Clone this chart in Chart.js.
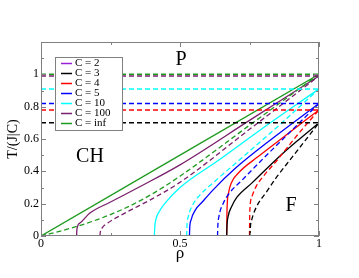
<!DOCTYPE html>
<html>
<head>
<meta charset="utf-8">
<script src="https://cdn.jsdelivr.net/npm/chart.js@4"></script>
<style>
html, body { margin: 0; padding: 0; background: #fff; }
</style>
</head>
<body>
<canvas id="phaseChart" width="359" height="278"></canvas>
<script>
// legend entries, one per C
const legendLabels = ['C = 2', 'C = 3', 'C = 4', 'C = 5', 'C = 10', 'C = 100', 'C = inf'];
const seriesColors = ['#9a20d8', '#000000', '#ff0000', '#0000ff', '#00ffff', '#7a1f6b', '#1e9a1e'];

// horizontal dashed levels T/(J|C|) for C = 3, 4, 5, 10, 100, inf
const levelT = [0.70, 0.78, 0.82, 0.91, 0.99, 1.00];

// C = 2 only shows up on the rho = 1 edge
const c2Line = [[1, 0], [1, 0.2]];

// solid curves [rho, T]
const c3Solid = [[0.668, 0], [0.669, 0.06], [0.673, 0.12], [0.685, 0.18], [0.705, 0.24], [0.76, 0.33], [0.85, 0.48], [0.93, 0.6], [1, 0.7]];
const c4Solid = [[0.668, 0], [0.6685, 0.1], [0.67, 0.2], [0.675, 0.27], [0.685, 0.33], [0.71, 0.39], [0.78, 0.49], [0.86, 0.596], [1, 0.78]];
const c5Solid = [[0.534, 0], [0.535, 0.05], [0.54, 0.1], [0.555, 0.16], [0.58, 0.21], [0.62, 0.287], [0.7, 0.42], [0.83, 0.6], [1, 0.82]];
const c10Solid = [[0.408, 0], [0.409, 0.05], [0.413, 0.1], [0.425, 0.15], [0.445, 0.2], [0.5, 0.3], [0.64, 0.47], [0.8, 0.67], [1, 0.91]];
const c100Solid = [[0.128, 0], [0.129, 0.04], [0.14, 0.08], [0.176, 0.142], [0.25, 0.21], [0.35, 0.3], [0.5, 0.44], [0.75, 0.715], [1, 0.99]];
const infSolid = [[0, 0], [1, 1]];

// dashed curves [rho, T]
const c3Dashed = [[0.752, 0], [0.753, 0.05], [0.758, 0.1], [0.775, 0.18], [0.81, 0.27], [0.85, 0.37], [0.9, 0.48], [0.95, 0.59], [1, 0.7]];
const c4Dashed = [[0.75, 0], [0.7505, 0.1], [0.752, 0.18], [0.76, 0.25], [0.775, 0.31], [0.8, 0.37], [0.85, 0.47], [0.92, 0.62], [1, 0.78]];
const c5Dashed = [[0.635, 0], [0.636, 0.06], [0.64, 0.12], [0.655, 0.2], [0.68, 0.27], [0.72, 0.34], [0.8, 0.48], [0.9, 0.65], [1, 0.82]];
const c10Dashed = [[0.524, 0], [0.525, 0.06], [0.53, 0.12], [0.545, 0.19], [0.57, 0.25], [0.62, 0.33], [0.72, 0.48], [0.86, 0.69], [1, 0.91]];
const c100Dashed = [[0.212, 0], [0.213, 0.02], [0.22, 0.05], [0.24, 0.08], [0.3, 0.14], [0.4, 0.23], [0.5, 0.332], [0.75, 0.66], [1, 0.99]];
const infDashed = [[0, 0], [0.1, 0.045], [0.2, 0.1], [0.3, 0.17], [0.4, 0.26], [0.5, 0.37], [0.75, 0.685], [1, 1.0]];

const xTicks = [0, 0.5, 1];
const yTicks = [0, 0.2, 0.4, 0.6, 0.8, 1];

const solidCurves = [c3Solid, c4Solid, c5Solid, c10Solid, c100Solid, infSolid];
const dashedCurves = [c3Dashed, c4Dashed, c5Dashed, c10Dashed, c100Dashed, infDashed];

const toPts = arr => arr.map(p => ({ x: p[0], y: p[1] }));

const datasets = [];
// horizontal levels first so curves sit on top
levelT.forEach((t, i) => {
    datasets.push({
        data: [{ x: 0, y: t }, { x: 1, y: t }],
        borderColor: seriesColors[i + 1],
        borderWidth: 1.5,
        borderDash: [5, 3],
        pointRadius: 0
    });
});
dashedCurves.forEach((c, i) => {
    datasets.push({
        data: toPts(c),
        borderColor: seriesColors[i + 1],
        borderWidth: 1.3,
        borderDash: [5, 3],
        pointRadius: 0,
        cubicInterpolationMode: 'monotone'
    });
});
solidCurves.forEach((c, i) => {
    datasets.push({
        data: toPts(c),
        borderColor: seriesColors[i + 1],
        borderWidth: 1.3,
        pointRadius: 0,
        cubicInterpolationMode: 'monotone'
    });
});
datasets.push({
    data: toPts(c2Line),
    borderColor: seriesColors[0],
    borderWidth: 2,
    pointRadius: 0
});

const serif = '"Liberation Serif", "DejaVu Serif", serif';

// frame, inward ticks, legend box and region labels
const decorations = {
    id: 'decorations',
    afterDatasetsDraw(chart) {
        const { ctx, chartArea: a, scales: { x, y } } = chart;
        ctx.save();
        ctx.strokeStyle = '#808080';
        ctx.lineWidth = 1;
        ctx.strokeRect(a.left + 0.5, a.top + 0.5, a.right - a.left - 1, a.bottom - a.top - 1);

        ctx.beginPath();
        for (let v = 0; v <= 1.2001; v += 0.1) {
            const py = Math.round(y.getPixelForValue(v)) + 0.5;
            const len = Math.round(v * 10) % 2 === 0 ? 5 : 3;
            ctx.moveTo(a.left, py); ctx.lineTo(a.left + len, py);
            ctx.moveTo(a.right, py); ctx.lineTo(a.right - len, py);
        }
        for (let v = 0; v <= 1.0001; v += 0.25) {
            const px = Math.round(x.getPixelForValue(v)) + 0.5;
            const len = Math.round(v * 4) % 2 === 0 ? 5 : 3;
            ctx.moveTo(px, a.bottom); ctx.lineTo(px, a.bottom - len);
            ctx.moveTo(px, a.top); ctx.lineTo(px, a.top + len);
        }
        ctx.stroke();

        // legend
        ctx.fillStyle = '#fff';
        ctx.fillRect(55, 57, 67, 73);
        ctx.strokeStyle = '#808080';
        ctx.strokeRect(55.5, 57.5, 67, 73);
        ctx.font = '11px ' + serif;
        ctx.textBaseline = 'middle';
        legendLabels.forEach((lab, i) => {
            const ly = 63.5 + i * 10;
            ctx.strokeStyle = seriesColors[i];
            ctx.lineWidth = 1.5;
            ctx.beginPath();
            ctx.moveTo(61, ly); ctx.lineTo(72, ly);
            ctx.stroke();
            ctx.fillStyle = '#000';
            ctx.fillText(lab, 75, ly);
        });

        // region names
        ctx.font = '20px ' + serif;
        ctx.textAlign = 'center';
        ctx.fillText('P', 181, 60);
        ctx.fillText('CH', 90, 157);
        ctx.fillText('F', 291, 206);
        ctx.restore();
    }
};

const plainNumber = v => String(Math.round(v * 10) / 10);

new Chart(document.getElementById('phaseChart'), {
    type: 'line',
    data: { datasets },
    options: {
        responsive: false,
        animation: false,
        layout: { padding: { left: 0, top: 42, right: 40, bottom: 14 } },
        plugins: { legend: { display: false }, tooltip: { enabled: false } },
        scales: {
            x: {
                type: 'linear',
                min: 0,
                max: 1,
                afterFit: s => { s.height = 28; },
                afterBuildTicks: s => { s.ticks = xTicks.map(v => ({ value: v })); },
                grid: { display: false, drawTicks: false },
                border: { display: false },
                ticks: { padding: 1, color: '#000', font: { family: serif, size: 12 }, callback: plainNumber },
                title: { display: true, text: 'ρ', color: '#000', padding: 0, font: { family: serif, size: 17 } }
            },
            y: {
                min: 0,
                max: 1.2,
                afterFit: s => { s.width = 41; },
                afterBuildTicks: s => { s.ticks = yTicks.map(v => ({ value: v })); },
                grid: { display: false, drawTicks: false },
                border: { display: false },
                ticks: { padding: 2, color: '#000', font: { family: serif, size: 12 }, callback: plainNumber },
                title: { display: true, text: 'T/(J|C)', color: '#000', padding: { top: 5, bottom: 0 }, font: { family: serif, size: 14 } }
            }
        }
    },
    plugins: [decorations]
});
</script>
</body>
</html>
